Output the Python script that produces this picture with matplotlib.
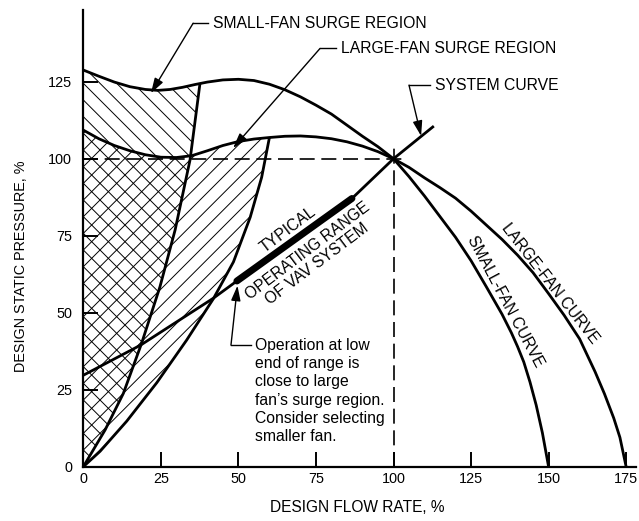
import numpy as np
import matplotlib.pyplot as plt

plt.rcParams['font.family'] = ['Liberation Sans', 'DejaVu Sans']
plt.rcParams['hatch.linewidth'] = 0.7

# fan curves (design flow %, design static pressure %)
small_fan_flow = [0, 5, 10, 15, 20, 24, 28, 32, 36, 40, 45, 50, 55, 60, 65, 70, 75, 80, 85, 90, 95,
                  100, 105, 110, 115, 120, 125, 130, 135, 138, 140, 142, 144, 146, 148, 150]
small_fan_press = [128.8, 126.8, 124.9, 123.4, 122.5, 122.2, 122.5, 123.2, 124.1, 124.9, 125.6, 125.8,
                   125.4, 124.2, 122.4, 120.1, 117.4, 114.5, 110.9, 107.3, 103.9,
                   100, 94.2, 87.9, 81.2, 74.5, 66.9, 58.3, 49.5, 43.5, 39, 34, 27.5, 20, 11, 0]

large_fan_flow = [0, 5, 10, 15, 20, 25, 30, 35, 40, 45, 50, 55, 60, 65, 70, 75, 80, 85, 90, 95,
                  100, 105, 110, 115, 120, 125, 130, 135, 140, 145, 150, 155, 160, 165, 168, 171, 173, 175]
large_fan_press = [109.3, 106.5, 104.3, 102.6, 101.3, 100.5, 100.4, 101.0, 102.6, 104.3, 105.6, 106.4,
                   106.9, 107.3, 107.4, 107.1, 106.5, 105.5, 104.1, 102.3,
                   100, 97.2, 93.8, 90.6, 87.2, 83.0, 78.4, 73.8, 68.7, 63.0, 56.2, 49.2, 41.5, 30.8,
                   23.7, 15.8, 9.5, 0]

# surge limit lines
small_surge_flow = [0, 7, 12.9, 18.8, 24.7, 29.6, 34.4, 37.6]
small_surge_press = [0, 11.9, 23.8, 40.1, 58.4, 76.9, 99.6, 124.4]
large_surge_flow = [0, 5.4, 14, 23.7, 33.3, 41.9, 48.4, 53.8, 57.5, 60]
large_surge_press = [0, 5.0, 14.8, 27.3, 41.1, 54.5, 66.5, 81, 94, 106.9]

# system curve and VAV operating range
system_flow = [0, 18.5, 41.9, 49.5, 86.6, 100, 113]
system_press = [29.7, 39.5, 54.7, 60.3, 87.1, 100, 110.6]
op_low, op_high = 49.5, 86.6
design_flow, design_press = 100, 100

xticks = [0, 25, 50, 75, 100, 125, 150, 175]
yticks = [0, 25, 50, 75, 100, 125]

fig = plt.figure(figsize=(6.39, 5.21), dpi=100)
ax = fig.add_axes([0.1304, 0.1042, 0.865, 0.8766])
ax.set_xlim(0, 178.2)
ax.set_ylim(0, 148.3)

# surge regions: overlap of the two hatches gives the cross-hatch
sf, sp = np.array(small_fan_flow), np.array(small_fan_press)
keep = sf < small_surge_flow[-1]
ax.fill(np.r_[small_surge_flow, sf[keep][::-1]], np.r_[small_surge_press, sp[keep][::-1]],
        facecolor='none', edgecolor='black', hatch='\\\\', linewidth=0)
lf, lp = np.array(large_fan_flow), np.array(large_fan_press)
keep = lf < large_surge_flow[-1]
ax.fill(np.r_[large_surge_flow, lf[keep][::-1]], np.r_[large_surge_press, lp[keep][::-1]],
        facecolor='none', edgecolor='black', hatch='//', linewidth=0)

# design point dashed lines
ax.plot([0, design_flow + 4], [design_press, design_press], color='black', lw=1.2, ls=(0, (9, 4)))
ax.plot([design_flow, design_flow], [0, design_press + 4], color='black', lw=1.2, ls=(0, (9, 4)))

for xs, ys in [(small_fan_flow, small_fan_press), (large_fan_flow, large_fan_press),
               (small_surge_flow, small_surge_press), (large_surge_flow, large_surge_press),
               (system_flow, system_press)]:
    ax.plot(xs, ys, color='black', lw=2, clip_on=False, solid_capstyle='butt')

sx, sy = np.array(system_flow), np.array(system_press)
rng = (sx >= op_low) & (sx <= op_high)
ax.plot(sx[rng], sy[rng], color='black', lw=5, solid_capstyle='round')

# leaders
fs = 11.3
arrow = dict(arrowstyle='-|>,head_length=0.7,head_width=0.22', color='black', lw=1,
             shrinkA=0, shrinkB=0, mutation_scale=13)


def leader(text, tx, ty, ex, tip):
    ax.text(tx, ty, text, ha='left', va='center', fontsize=fs)
    ax.plot([ex, tx - 1.6], [ty, ty], color='black', lw=1)
    ax.annotate('', xy=tip, xytext=(ex, ty), arrowprops=arrow)


leader('SMALL-FAN SURGE REGION', 41.8, 144, 35.4, (21.8, 121.3))
leader('LARGE-FAN SURGE REGION', 83.1, 135.8, 76.3, (48.3, 103.5))
leader('SYSTEM CURVE', 113.4, 123.9, 105, (108.9, 107.4))

ax.text(55.3, 41.9, 'Operation at low\nend of range is\nclose to large\nfan\u2019s surge region.\n'
        'Consider selecting\nsmaller fan.', ha='left', va='top', fontsize=fs, linespacing=1.28)
ax.plot([47.6, 54.1], [39.5, 39.5], color='black', lw=1)
ax.annotate('', xy=(49.7, 58.8), xytext=(47.6, 39.5), arrowprops=arrow)

ax.text(66.0, 77.1, 'TYPICAL', rotation=37, ha='center', va='center',
        rotation_mode='anchor', fontsize=fs)
ax.text(73.9, 68.0, 'OPERATING RANGE\nOF VAV SYSTEM', rotation=37, ha='center', va='center',
        rotation_mode='anchor', multialignment='center', fontsize=fs, linespacing=1.1)
ax.text(135.9, 53.6, 'SMALL-FAN CURVE', rotation=-62, ha='center', va='center',
        rotation_mode='anchor', fontsize=fs)
ax.text(150.6, 59.4, 'LARGE-FAN CURVE', rotation=-52, ha='center', va='center',
        rotation_mode='anchor', fontsize=fs)

for side in ['top', 'right']:
    ax.spines[side].set_visible(False)
for side in ['left', 'bottom']:
    ax.spines[side].set_linewidth(1.6)
ax.set_xticks(xticks)
ax.set_yticks(yticks)
ax.tick_params(direction='in', length=11, width=1.4, labelsize=10.4)
ax.tick_params(axis='y', pad=8)
ax.tick_params(axis='x', pad=4)

fig.text(357.5 / 639, 1 - 508 / 521, 'DESIGN FLOW RATE, %', ha='center', va='center', fontsize=11.2)
fig.text(21 / 639, 1 - 266.7 / 521, 'DESIGN STATIC PRESSURE, %', ha='center', va='center',
         rotation=90, fontsize=10.4)

fig.savefig('out.png', dpi=100)
